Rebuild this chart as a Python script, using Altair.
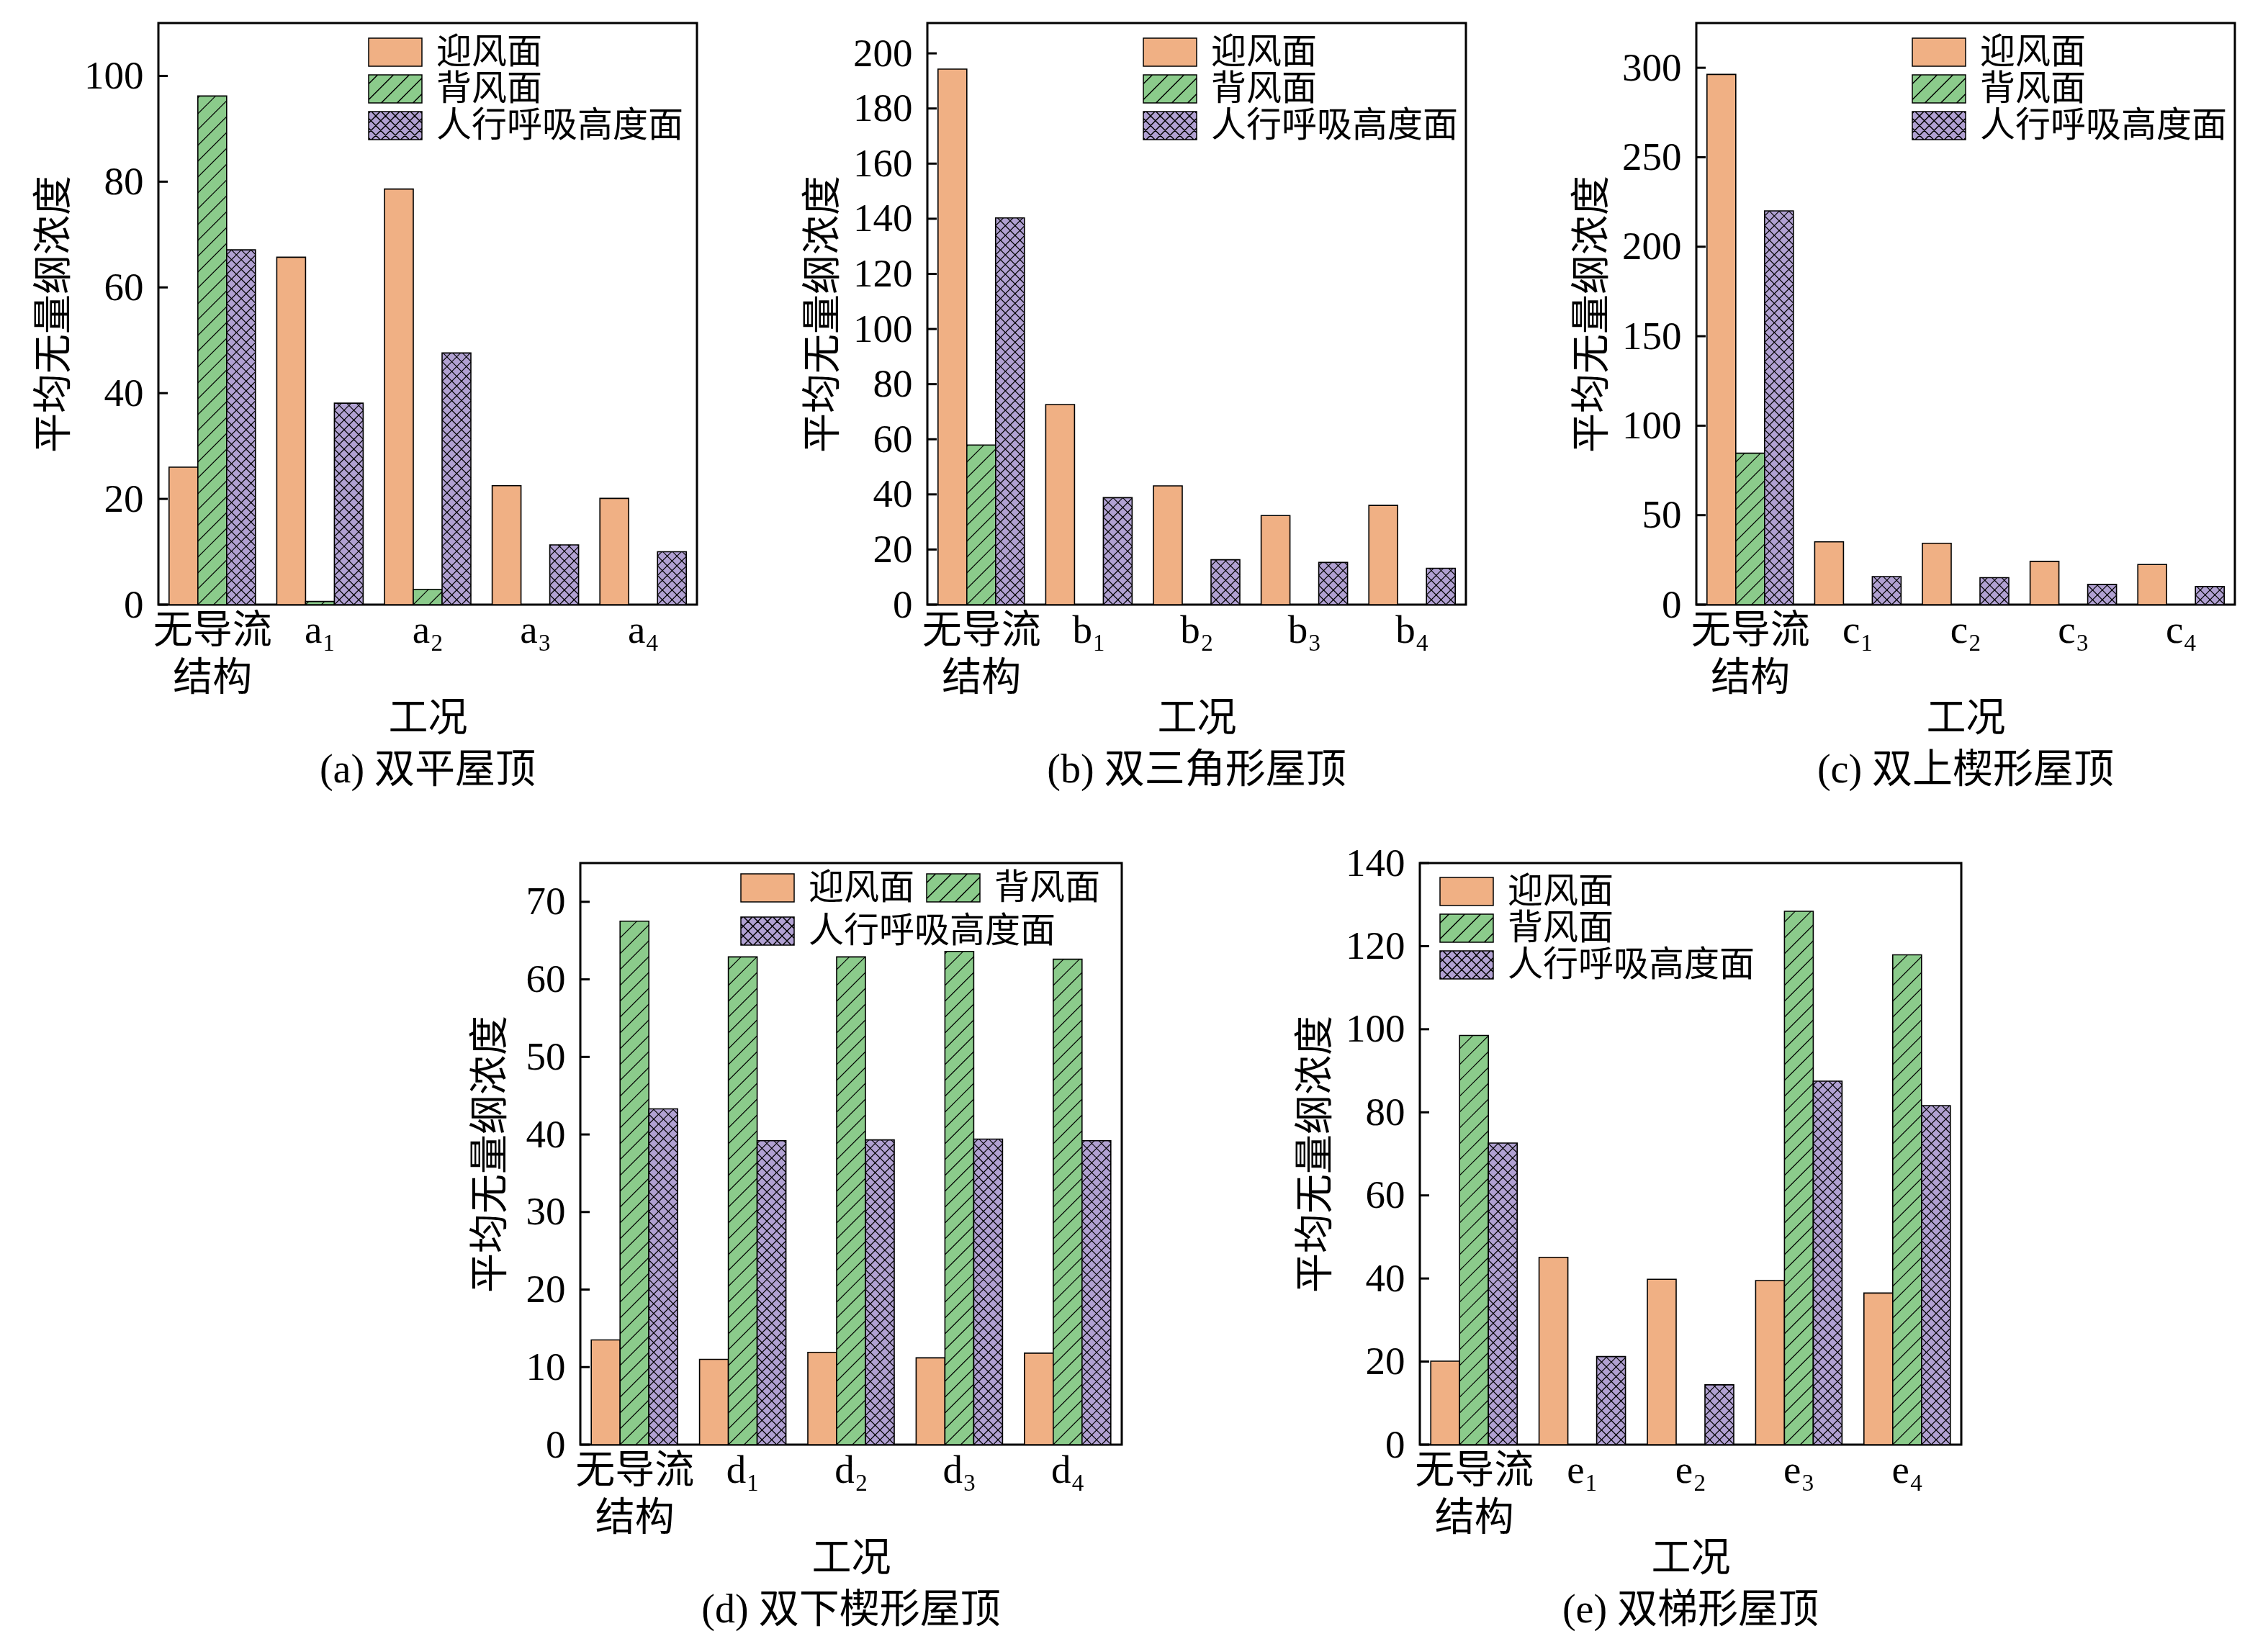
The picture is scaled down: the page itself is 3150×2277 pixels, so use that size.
import json
import altair as alt
import pandas as pd

FONT = "Liberation Serif, Noto Sans CJK SC"
SERIES = ["迎风面", "背风面", "人行呼吸高度面"]
COLORS = ["#F0B084", "#8BCB8B", "#B1A1D2"]

# ---- data ----
cats_a = ["无导流\n结构", "a₁", "a₂", "a₃", "a₄"]
ying_a = [26.0, 65.7, 78.6, 22.5, 20.1]
bei_a = [96.2, 0.6, 2.9, None, None]
ren_a = [67.1, 38.1, 47.6, 11.3, 10.0]
ticks_a = [0, 20, 40, 60, 80, 100]

cats_b = ["无导流\n结构", "b₁", "b₂", "b₃", "b₄"]
ying_b = [194.3, 72.6, 43.1, 32.3, 36.0]
bei_b = [57.9, None, None, None, None]
ren_b = [140.3, 38.8, 16.3, 15.3, 13.2]
ticks_b = [0, 20, 40, 60, 80, 100, 120, 140, 160, 180, 200]

cats_c = ["无导流\n结构", "c₁", "c₂", "c₃", "c₄"]
ying_c = [296.3, 35.1, 34.3, 24.2, 22.4]
bei_c = [84.6, None, None, None, None]
ren_c = [220.0, 15.7, 15.1, 11.3, 10.1]
ticks_c = [0, 50, 100, 150, 200, 250, 300]

cats_d = ["无导流\n结构", "d₁", "d₂", "d₃", "d₄"]
ying_d = [13.5, 11.0, 11.9, 11.2, 11.8]
bei_d = [67.5, 62.9, 62.9, 63.6, 62.6]
ren_d = [43.3, 39.2, 39.3, 39.4, 39.2]
ticks_d = [0, 10, 20, 30, 40, 50, 60, 70]

cats_e = ["无导流\n结构", "e₁", "e₂", "e₃", "e₄"]
ying_e = [20.1, 45.1, 39.8, 39.5, 36.5]
bei_e = [98.5, None, None, 128.4, 117.9]
ren_e = [72.6, 21.2, 14.4, 87.5, 81.6]
ticks_e = [0, 20, 40, 60, 80, 100, 120, 140]

# ---- style constants ----
BWP = 40.0      # bar width in px
D_DIAG = 22.0   # hatch spacing for "/"
D_CROSS = 13.5  # hatch spacing for crosshatch
FS = 55


def legend_path(kind):
    h = 0.527
    p = f"M-1,{-h}L1,{-h}L1,{h}L-1,{h}Z"
    if kind == 0:
        return p
    unit = 37.0
    D = (D_DIAG if kind == 1 else D_CROSS) / unit
    dirs = ["/"] if kind == 1 else ["/", "\\"]
    for d in dirs:
        for k in range(-20, 21):
            c = k * D
            lo = max(-1.0, c - h)
            hi = min(1.0, c + h)
            if hi - lo < 0.03:
                continue
            if d == "/":
                p += f"M{lo:.3f},{c - lo:.3f}L{hi:.3f},{c - hi:.3f}"
            else:
                p += f"M{lo:.3f},{lo - c:.3f}L{hi:.3f},{hi - c:.3f}"
    return p


SHAPES = [legend_path(0), legend_path(1), legend_path(2)]
LEG_COMMON = dict(title=None, labelFontSize=49, labelFont=FONT, labelColor="black",
                  labelLimit=1000, symbolSize=5476, orient="none",
                  symbolStrokeColor="black", symbolStrokeWidth=1.5,
                  symbolOpacity=1, padding=0, labelOffset=19)


def make_panel(cats, ying, bei, ren, ymax, ticks, W, H, caption, leg, tpad, leg2=None):
    rows = []
    for s, vals in enumerate([ying, bei, ren]):
        for i, v in enumerate(vals):
            if v is not None:
                rows.append({"i": i, "s": s, "v": v, "series": SERIES[s]})
    df = pd.DataFrame(rows)
    KX = W / 5.0
    KY = H / ymax
    bw = BWP / KX
    xl_expr = f"datum.i + (datum.s - 1) * {bw} - {bw / 2}"
    xr_expr = f"datum.i + (datum.s - 1) * {bw} + {bw / 2}"

    xscale = alt.Scale(domain=[-0.5, 4.5], nice=False, zero=False)
    yscale = alt.Scale(domain=[0, ymax], nice=False, zero=True)
    fscale = alt.Scale(domain=SERIES, range=COLORS)
    shscale = alt.Scale(domain=SERIES, range=SHAPES)
    stscale = alt.Scale(domain=SERIES, range=["black", "black", "black"])

    label_expr = f"split({json.dumps(cats, ensure_ascii=False)}[datum.value], '\\n')"
    xaxis = alt.Axis(values=[0, 1, 2, 3, 4], labelExpr=label_expr, title="工况",
                     grid=False, ticks=False, domain=False, labelAngle=0,
                     labelFontSize=FS, titleFontSize=FS, labelPadding=9,
                     labelLineHeight=66, labelBaseline="top", labelFlush=False,
                     labelOverlap=False, titlePadding=2)
    yaxis = alt.Axis(values=ticks, title="平均无量纲浓度", grid=False, ticks=False,
                     tickSize=0, domain=False, labelFontSize=FS, titleFontSize=FS,
                     labelPadding=21, titlePadding=tpad, format="d",
                     labelOverlap=False, labelFlush=False)

    legend = alt.Legend(**LEG_COMMON, **leg)

    bars = alt.Chart(df).transform_calculate(
        xl=xl_expr).transform_calculate(xr=xr_expr).transform_calculate(y0="0").mark_rect(
        stroke="black", strokeWidth=1.6).encode(
        x=alt.X("xl:Q", scale=xscale, axis=xaxis),
        x2=alt.X2("xr"),
        y=alt.Y("v:Q", scale=yscale, axis=yaxis),
        y2=alt.Y2("y0"),
        fill=alt.Fill("series:N", scale=fscale, legend=legend),
    )

    def hatch(sidx, D, direction):
        if direction == "/":
            kexpr = f"sequence(ceil(-{BWP} / {D}), floor(datum.h / {D}) + 1)"
            us = "max(0, -datum.c)"
            ue = f"min({BWP}, datum.h - datum.c)"
            ty1 = "datum.us + datum.c"
            ty2 = "datum.ue + datum.c"
        else:
            kexpr = f"sequence(1, ceil((datum.h + {BWP}) / {D}))"
            us = "max(0, datum.c - datum.h)"
            ue = f"min({BWP}, datum.c)"
            ty1 = "datum.c - datum.us"
            ty2 = "datum.c - datum.ue"
        return (
            alt.Chart(df)
            .transform_filter(f"datum.s == {sidx}")
            .transform_calculate(xl=xl_expr)
            .transform_calculate(h=f"datum.v * {KY}")
            .transform_calculate(ks=kexpr)
            .transform_flatten(["ks"], as_=["k"])
            .transform_calculate(c=f"datum.k * {D}")
            .transform_calculate(us=us)
            .transform_calculate(ue=ue)
            .transform_filter("datum.ue - datum.us > 0.5")
            .transform_calculate(hx1=f"datum.xl + datum.us / {KX}")
            .transform_calculate(hy1=f"({ty1}) / {KY}")
            .transform_calculate(hx2=f"datum.xl + datum.ue / {KX}")
            .transform_calculate(hy2=f"({ty2}) / {KY}")
            .mark_rule(color="black", strokeWidth=1.1)
            .encode(
                x=alt.X("hx1:Q", scale=xscale, axis=xaxis),
                y=alt.Y("hy1:Q", scale=yscale, axis=yaxis),
                x2=alt.X2("hx2"),
                y2=alt.Y2("hy2"),
            )
        )

    tick_layer = alt.Chart(pd.DataFrame({"t": ticks})).mark_rule(
        color="black", strokeWidth=3).encode(
        y=alt.Y("t:Q", scale=yscale, axis=yaxis),
        x=alt.value(0), x2=alt.value(13))

    # legend source (no visible marks): gives the legend hatched swatch shapes
    leg_layer = alt.Chart(df).transform_filter("datum.v < 0").mark_point(
        filled=True, strokeWidth=1.5).encode(
        x=alt.X("i:Q", scale=xscale, axis=xaxis),
        y=alt.Y("v:Q", scale=yscale, axis=yaxis),
        fill=alt.Fill("series:N", scale=fscale, legend=legend),
        shape=alt.Shape("series:N", scale=shscale, legend=legend),
        stroke=alt.Stroke("series:N", scale=stscale, legend=legend),
    )

    layers = [bars, hatch(1, D_DIAG, "/"), hatch(2, D_CROSS, "/"),
              hatch(2, D_CROSS, "\\"), tick_layer, leg_layer]

    if leg2 is not None:
        # a second legend holding only the last series (own row in panel d)
        legend2 = alt.Legend(**LEG_COMMON, symbolType=SHAPES[2],
                             symbolFillColor=COLORS[2], **leg2)
        leg_layer2 = alt.Chart(df).transform_filter("datum.v < 0").mark_point(
            filled=False, fill=COLORS[2], strokeWidth=1.5).encode(
            x=alt.X("i:Q", scale=xscale, axis=xaxis),
            y=alt.Y("v:Q", scale=yscale, axis=yaxis),
            color=alt.Color("series:N",
                            scale=alt.Scale(domain=[SERIES[2]], range=["black"]),
                            legend=legend2),
        )
        layers.append(leg_layer2)

    return alt.layer(*layers).properties(
        width=W, height=H,
        title=alt.TitleParams(text=caption, orient="bottom", anchor="middle",
                              fontSize=56, font=FONT, fontWeight="normal",
                              color="black", offset=18),
    )


leg_a = dict(legendX=291, legendY=2.5, columns=1, gridAlign="none", rowPadding=-12)
leg_b = dict(legendX=299, legendY=2.5, columns=1, gridAlign="none", rowPadding=-12)
leg_d = dict(legendX=222, legendY=-3.5, direction="horizontal",
             values=SERIES[:2], columnPadding=13)
leg_d2 = dict(legendX=222, legendY=56.5, direction="horizontal")
leg_e = dict(legendX=27, legendY=1.5, columns=1, gridAlign="none", rowPadding=-12)

pa = make_panel(cats_a, ying_a, bei_a, ren_a, 110, ticks_a, 748, 808, "(a) 双平屋顶", leg_a, 13)
pb = make_panel(cats_b, ying_b, bei_b, ren_b, 211, ticks_b, 748, 808, "(b) 双三角形屋顶", leg_b, 13)
pc = make_panel(cats_c, ying_c, bei_c, ren_c, 325, ticks_c, 748, 808, "(c) 双上楔形屋顶", leg_b, 13)
pd_ = make_panel(cats_d, ying_d, bei_d, ren_d, 75, ticks_d, 752, 808, "(d) 双下楔形屋顶", leg_d, 21,
                 leg2=leg_d2)
pe = make_panel(cats_e, ying_e, bei_e, ren_e, 140, ticks_e, 752, 808, "(e) 双梯形屋顶", leg_e, 13)

spacer = alt.Chart(pd.DataFrame({"z": [0]})).mark_point(opacity=0).encode(
    x=alt.value(0), y=alt.value(0)).properties(
    width=172, height=808, view=alt.ViewBackground(stroke="transparent"))


def indep(c):
    return c.resolve_scale(fill="independent", stroke="independent", color="independent",
                           shape="independent").resolve_legend(
        fill="independent", stroke="independent", color="independent", shape="independent")


top = indep(alt.hconcat(pa, pb, pc, spacing=320, bounds="flush"))
bottom = indep(alt.hconcat(spacer, pd_, pe, spacing=414, bounds="flush"))

chart = indep(alt.vconcat(top, bottom, spacing=70)).properties(
    padding={"left": 38, "top": 22, "right": 10, "bottom": 10},
    background="white",
).configure_view(stroke="black", strokeWidth=3).configure_axis(
    labelFont=FONT, titleFont=FONT, labelColor="black", titleColor="black",
    titleFontWeight="normal",
).configure_legend(labelFont=FONT)

chart.save("out.html", embed_options={"renderer": "svg", "actions": False})
